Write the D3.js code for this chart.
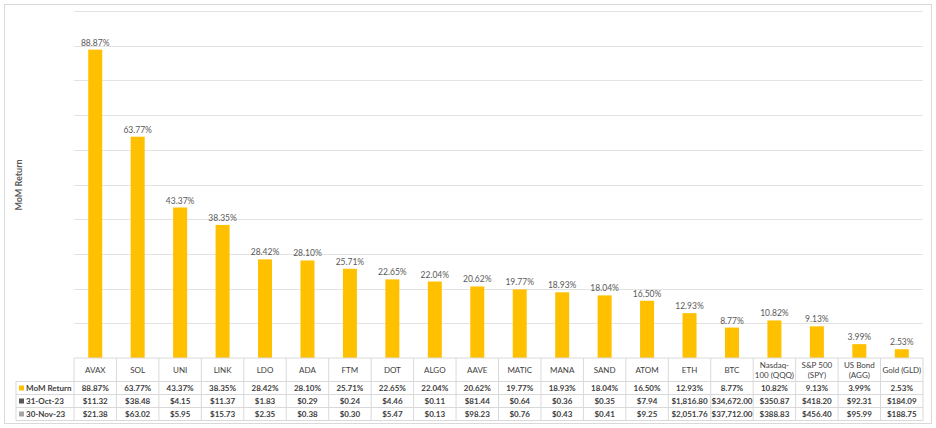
<!DOCTYPE html>
<html>
<head>
<meta charset="utf-8">
<script src="https://cdn.jsdelivr.net/npm/d3@7"></script>
<style>
  body { margin: 0; background: #fff; }
  svg text { font-family: Lato, "Open Sans", sans-serif; }
</style>
</head>
<body>
<div id="chart"></div>
<script>
var categories = ['AVAX', 'SOL', 'UNI', 'LINK', 'LDO', 'ADA', 'FTM', 'DOT', 'ALGO', 'AAVE',
  'MATIC', 'MANA', 'SAND', 'ATOM', 'ETH', 'BTC', 'Nasdaq-|100 (QQQ)', 'S&P 500|(SPY)', 'US Bond|(AGG)', 'Gold (GLD)'];
var momReturn = [88.87, 63.77, 43.37, 38.35, 28.42, 28.10, 25.71, 22.65, 22.04, 20.62,
  19.77, 18.93, 18.04, 16.50, 12.93, 8.77, 10.82, 9.13, 3.99, 2.53];
var oct31 = ['$11.32', '$38.48', '$4.15', '$11.37', '$1.83', '$0.29', '$0.24', '$4.46', '$0.11', '$81.44',
  '$0.64', '$0.36', '$0.35', '$7.94', '$1,816.80', '$34,672.00', '$350.87', '$418.20', '$92.31', '$184.09'];
var nov30 = ['$21.38', '$63.02', '$5.95', '$15.73', '$2.35', '$0.38', '$0.30', '$5.47', '$0.13', '$98.23',
  '$0.76', '$0.43', '$0.41', '$9.25', '$2,051.76', '$37,712.00', '$388.83', '$456.40', '$95.99', '$188.75'];
var yTicks = [0, 10, 20, 30, 40, 50, 60, 70, 80, 90, 100];

var W = 936, H = 428;
var plotLeft = 74, plotRight = 923, plotTop = 11, base = 358;
var rowY = [358, 381.5, 394.5, 407.5, 420.5];

var svg = d3.select('#chart').append('svg')
  .attr('width', W).attr('height', H);

svg.append('rect')
  .attr('x', 4.5).attr('y', 4.5)
  .attr('width', 927).attr('height', 419)
  .style('fill', '#fff')
  .style('stroke', '#d9d9d9');

var x = d3.scaleBand().domain(categories).range([plotLeft, plotRight]).padding(0);
var xb = d3.scaleBand().domain(categories).range([plotLeft, plotRight])
  .paddingInner(0.67).paddingOuter(0.335);
var y = d3.scaleLinear().domain([0, 100]).range([base, plotTop]);

// gridlines
svg.append('g').selectAll('line').data(yTicks.slice(1)).enter().append('line')
  .attr('x1', plotLeft).attr('x2', plotRight)
  .attr('y1', function(d) { return Math.round(y(d)) + 0.5; })
  .attr('y2', function(d) { return Math.round(y(d)) + 0.5; })
  .style('stroke', '#e3e3e3')
  .style('stroke-width', 1);

// bars
svg.append('g').selectAll('rect').data(momReturn).enter().append('rect')
  .attr('x', function(d, i) { return xb(categories[i]); })
  .attr('width', xb.bandwidth())
  .attr('y', function(d) { return y(d); })
  .attr('height', function(d) { return base - y(d); })
  .style('fill', '#ffc000');

// data labels
svg.append('g').selectAll('text').data(momReturn).enter().append('text')
  .attr('x', function(d, i) { return x(categories[i]) + x.bandwidth() / 2; })
  .attr('y', function(d) { return y(d) - 4; })
  .attr('text-anchor', 'middle')
  .style('font-size', '8.5px')
  .style('fill', '#595959')
  .text(function(d) { return d.toFixed(2) + '%'; });

// y axis title
svg.append('text')
  .attr('transform', 'translate(22,185) rotate(-90)')
  .attr('text-anchor', 'middle')
  .style('font-size', '9px')
  .style('font-weight', 'bold')
  .style('fill', '#595959')
  .text('MoM Return');

// data table
var table = svg.append('g');
var lineColor = '#d9d9d9';
var legendLeft = 16;

rowY.forEach(function(r, i) {
  table.append('line')
    .attr('x1', i === 0 ? plotLeft : legendLeft).attr('x2', plotRight)
    .attr('y1', r).attr('y2', r)
    .style('stroke', lineColor);
});
categories.forEach(function(c) {
  table.append('line')
    .attr('x1', x(c)).attr('x2', x(c))
    .attr('y1', rowY[0]).attr('y2', rowY[4])
    .style('stroke', lineColor);
});
table.append('line')
  .attr('x1', plotRight).attr('x2', plotRight)
  .attr('y1', rowY[0]).attr('y2', rowY[4])
  .style('stroke', lineColor);
table.append('line')
  .attr('x1', legendLeft).attr('x2', legendLeft)
  .attr('y1', rowY[1]).attr('y2', rowY[4])
  .style('stroke', lineColor);

// header labels
categories.forEach(function(c) {
  var parts = c.split('|');
  var cx = x(c) + x.bandwidth() / 2;
  var midY = (rowY[0] + rowY[1]) / 2;
  var t = table.append('text')
    .attr('text-anchor', 'middle')
    .style('font-size', '8px')
    .style('fill', '#404040');
  parts.forEach(function(p, k) {
    t.append('tspan')
      .attr('x', cx)
      .attr('y', midY + 3 + (k - (parts.length - 1) / 2) * 10)
      .text(p);
  });
});

var rows = [
  { name: 'MoM Return', color: '#ffc000', values: momReturn.map(function(d) { return d.toFixed(2) + '%'; }) },
  { name: '31-Oct-23', color: '#595959', values: oct31 },
  { name: '30-Nov-23', color: '#a5a5a5', values: nov30 }
];

rows.forEach(function(row, r) {
  var cy = (rowY[r + 1] + rowY[r + 2]) / 2;
  table.append('rect')
    .attr('x', 19).attr('y', cy - 2.5)
    .attr('width', 5).attr('height', 5)
    .style('fill', row.color);
  table.append('text')
    .attr('x', 26).attr('y', cy + 3)
    .style('font-size', '8px')
    .style('font-weight', 'bold')
    .style('fill', '#404040')
    .text(row.name);
  row.values.forEach(function(v, i) {
    table.append('text')
      .attr('x', x(categories[i]) + x.bandwidth() / 2)
      .attr('y', cy + 3)
      .attr('text-anchor', 'middle')
      .style('font-size', '8px')
      .style('font-weight', 'bold')
      .style('fill', '#404040')
      .text(v);
  });
});
</script>
</body>
</html>
